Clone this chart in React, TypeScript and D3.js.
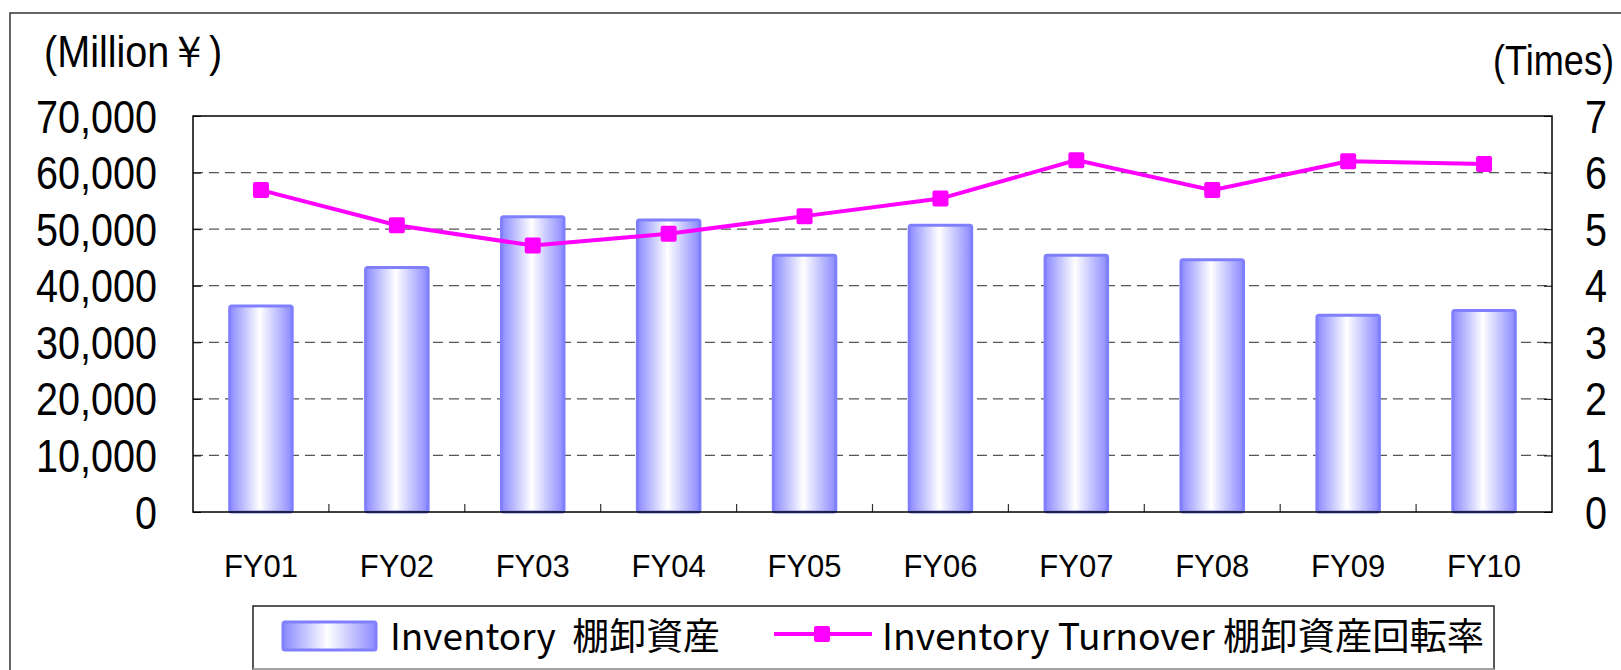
import React, { useEffect, useRef } from 'react';
import * as d3 from 'd3';

// data
const categories = ['FY01', 'FY02', 'FY03', 'FY04', 'FY05', 'FY06', 'FY07', 'FY08', 'FY09', 'FY10'];
const inventory = [36400, 43200, 52200, 51600, 45400, 50700, 45400, 44600, 34800, 35600];
const turnover = [5.69, 5.07, 4.71, 4.92, 5.23, 5.54, 6.22, 5.69, 6.2, 6.15];
const leftTicks = [0, 10000, 20000, 30000, 40000, 50000, 60000, 70000];
const rightTicks = [0, 1, 2, 3, 4, 5, 6, 7];
const leftTitle = '(Million￥)';
const rightTitle = '(Times)';
const barLabel = 'Inventory  棚卸資産';
const lineLabel = 'Inventory Turnover 棚卸資産回転率';

export default function App() {
  const svgRef = useRef<SVGSVGElement>(null);

  useEffect(() => {
    if (!svgRef.current) return;
    document.body.style.margin = '0';

    const width = 1621;
    const height = 670;
    const plot = { left: 193, top: 116, right: 1552, bottom: 512 };

    const svg = d3.select(svgRef.current).attr('width', width).attr('height', height);
    svg.selectAll('*').remove();

    // gradient for the bars
    const defs = svg.append('defs');
    const grad = defs.append('linearGradient').attr('id', 'barGrad')
      .attr('x1', '0%').attr('x2', '100%').attr('y1', '0%').attr('y2', '0%');
    grad.append('stop').attr('offset', '0%').attr('stop-color', '#8a8aff');
    grad.append('stop').attr('offset', '48%').attr('stop-color', '#ffffff');
    grad.append('stop').attr('offset', '100%').attr('stop-color', '#8a8aff');

    // outer frame
    svg.append('rect')
      .attr('x', 10).attr('y', 13).attr('width', 1700).attr('height', 700)
      .attr('fill', '#fff').attr('stroke', '#333').attr('stroke-width', 1.5);

    const x = d3.scaleBand<string>()
      .domain(categories)
      .range([plot.left, plot.right])
      .paddingInner(0.54)
      .paddingOuter(0.27);
    const yL = d3.scaleLinear().domain([0, 70000]).range([plot.bottom, plot.top]);
    const yR = d3.scaleLinear().domain([0, 7]).range([plot.bottom, plot.top]);

    // dashed gridlines
    svg.append('g').selectAll('line')
      .data(leftTicks.filter(t => t > 0 && t < 70000))
      .enter().append('line')
      .attr('x1', plot.left).attr('x2', plot.right)
      .attr('y1', d => yL(d)).attr('y2', d => yL(d))
      .attr('stroke', '#555').attr('stroke-width', 1.2)
      .attr('stroke-dasharray', '10,6');

    // inner ticks on value axes
    svg.append('g').attr('transform', `translate(${plot.left},0)`)
      .call(d3.axisLeft(yL).tickValues(leftTicks).tickSize(-8).tickFormat(() => ''))
      .call(g => g.select('.domain').remove())
      .selectAll('line').attr('stroke', '#000');
    svg.append('g').attr('transform', `translate(${plot.right},0)`)
      .call(d3.axisRight(yR).tickValues(rightTicks).tickSize(-8).tickFormat(() => ''))
      .call(g => g.select('.domain').remove())
      .selectAll('line').attr('stroke', '#000');

    // category separators
    const step = x.step();
    svg.append('g').selectAll('line')
      .data(categories.slice(1))
      .enter().append('line')
      .attr('x1', (_, i) => plot.left + step * (i + 1))
      .attr('x2', (_, i) => plot.left + step * (i + 1))
      .attr('y1', plot.bottom).attr('y2', plot.bottom - 8)
      .attr('stroke', '#333').attr('stroke-width', 1.2);

    // bars
    svg.append('g').selectAll('rect')
      .data(inventory)
      .enter().append('rect')
      .attr('x', (_, i) => x(categories[i])!)
      .attr('y', d => yL(d))
      .attr('width', x.bandwidth())
      .attr('height', d => plot.bottom - yL(d))
      .attr('rx', 2)
      .attr('fill', 'url(#barGrad)')
      .attr('stroke', '#8080ff').attr('stroke-width', 3);

    // plot frame
    svg.append('rect')
      .attr('x', plot.left).attr('y', plot.top)
      .attr('width', plot.right - plot.left).attr('height', plot.bottom - plot.top)
      .attr('fill', 'none').attr('stroke', '#000').attr('stroke-width', 1.5);

    // turnover line
    const cx = (i: number) => x(categories[i])! + x.bandwidth() / 2;
    const line = d3.line<number>().x((_, i) => cx(i)).y(d => yR(d));
    svg.append('path').datum(turnover)
      .attr('d', line)
      .attr('fill', 'none').attr('stroke', '#ff00ff').attr('stroke-width', 4);
    svg.append('g').selectAll('rect')
      .data(turnover)
      .enter().append('rect')
      .attr('x', (_, i) => cx(i) - 8)
      .attr('y', d => yR(d) - 8)
      .attr('width', 16).attr('height', 16).attr('rx', 2)
      .attr('fill', '#ff00ff');

    // value axis labels
    const tickFont = '"Liberation Sans", Arial, sans-serif';
    svg.append('g').selectAll('text')
      .data(leftTicks)
      .enter().append('text')
      .attr('transform', d => `translate(157,${yL(d) + 16.5}) scale(0.86,1)`)
      .attr('text-anchor', 'end')
      .attr('font-family', tickFont).attr('font-size', 46).attr('fill', '#000')
      .text(d => d3.format(',')(d));
    svg.append('g').selectAll('text')
      .data(rightTicks)
      .enter().append('text')
      .attr('transform', d => `translate(1585,${yR(d) + 16.5}) scale(0.86,1)`)
      .attr('font-family', tickFont).attr('font-size', 46).attr('fill', '#000')
      .text(d => String(d));

    // axis titles
    svg.append('text')
      .attr('transform', 'translate(44,67) scale(0.9,1)')
      .attr('font-family', tickFont).attr('font-size', 44)
      .text(leftTitle);
    svg.append('text')
      .attr('transform', 'translate(1614,75) scale(0.84,1)')
      .attr('text-anchor', 'end')
      .attr('font-family', tickFont).attr('font-size', 43)
      .text(rightTitle);

    // category labels
    svg.append('g').selectAll('text')
      .data(categories)
      .enter().append('text')
      .attr('x', (_, i) => cx(i)).attr('y', 577)
      .attr('text-anchor', 'middle')
      .attr('font-family', tickFont).attr('font-size', 31).attr('fill', '#000')
      .text(d => d);

    // legend
    const lg = svg.append('g');
    lg.append('rect')
      .attr('x', 253).attr('y', 606).attr('width', 1241).attr('height', 63)
      .attr('fill', '#fff').attr('stroke', '#222').attr('stroke-width', 1.5);
    lg.append('line')
      .attr('x1', 253).attr('x2', 1494).attr('y1', 669).attr('y2', 669)
      .attr('stroke', '#bbb').attr('stroke-width', 1.5);
    lg.append('rect')
      .attr('x', 283).attr('y', 622).attr('width', 93).attr('height', 28).attr('rx', 2)
      .attr('fill', 'url(#barGrad)').attr('stroke', '#8080ff').attr('stroke-width', 3);
    const legendFont = '"Noto Sans CJK JP", "Noto Sans", sans-serif';
    lg.append('text')
      .attr('x', 390).attr('y', 650)
      .attr('font-family', legendFont).attr('font-size', 37)
      .attr('textLength', 330).attr('lengthAdjust', 'spacingAndGlyphs')
      .style('white-space', 'pre')
      .text(barLabel);
    lg.append('line')
      .attr('x1', 774).attr('x2', 872).attr('y1', 634).attr('y2', 634)
      .attr('stroke', '#ff00ff').attr('stroke-width', 4);
    lg.append('rect')
      .attr('x', 814).attr('y', 626).attr('width', 16).attr('height', 16).attr('rx', 2)
      .attr('fill', '#ff00ff');
    lg.append('text')
      .attr('x', 882).attr('y', 650)
      .attr('font-family', legendFont).attr('font-size', 37)
      .attr('textLength', 602).attr('lengthAdjust', 'spacingAndGlyphs')
      .text(lineLabel);
  }, []);

  return (
    <div style={{ width: 1621, height: 670, overflow: 'hidden' }}>
      <svg ref={svgRef} style={{ display: 'block' }}></svg>
    </div>
  );
}
